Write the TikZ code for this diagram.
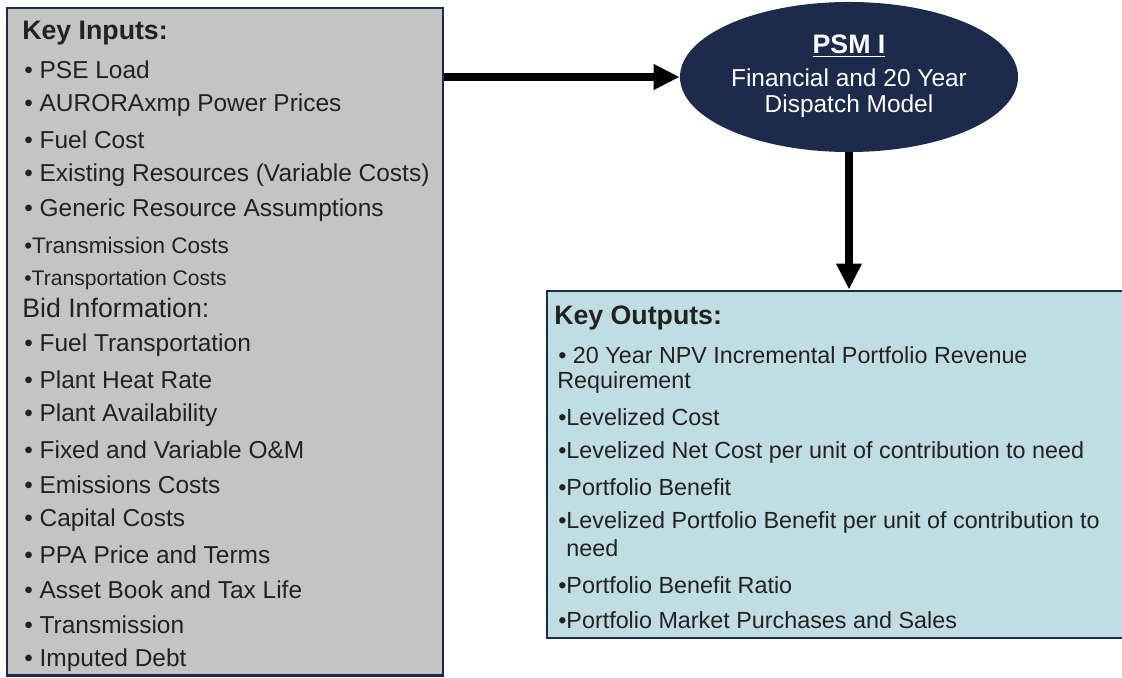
\documentclass[tikz,border=0pt]{standalone}
\usepackage{fontspec}
\setmainfont{Liberation Sans}
\usetikzlibrary{shapes.geometric,arrows.meta}
\definecolor{navy}{HTML}{1C2B4B}
\definecolor{boxgrey}{HTML}{C4C4C4}
\definecolor{boxblue}{HTML}{BFDDE3}
\definecolor{txt}{HTML}{222222}
\begin{document}
\begin{tikzpicture}[x=0.025cm,y=-0.025cm,
  item/.style={anchor=west, inner sep=0, text=txt, font=\fontsize{17.4}{20}\selectfont},
  outitem/.style={anchor=west, inner sep=0, text=txt, font=\fontsize{16.6}{19}\selectfont},
  head/.style={anchor=west, inner sep=0, text=txt, font=\fontsize{19}{22}\selectfont\bfseries},
  flow/.style={line width=5pt, -{Triangle[length=0.65cm,width=0.6cm]}}]
\useasboundingbox (0,0) rectangle (1122,677);
% key inputs
\node[draw=navy, line width=2pt, fill=boxgrey, minimum width=10.9cm, minimum height=16.675cm, inner sep=0] (inbox) at (225,341.5){};
\node[head] (inhead) at (22,33){Key Inputs:};
\foreach \t [count=\i from 0] in {PSE Load, AURORAxmp Power Prices, Fuel Cost,
    Existing Resources (Variable Costs), Generic Resource Assumptions}
  \node[item] (ina\i) at (24,70+35*\i){• \t};
\node[item, font=\fontsize{16}{19}\selectfont] (intrm) at (24,245){•Transmission Costs};
\node[item, font=\fontsize{15}{18}\selectfont] (intrp) at (24,280){•Transportation Costs};
\node[item, font=\fontsize{19}{22}\selectfont] (inbid) at (22,308){Bid Information:};
\foreach \t [count=\i from 0] in {Fuel Transportation, Plant Heat Rate, Plant Availability,
    Fixed and Variable O\&M, Emissions Costs, Capital Costs, PPA Price and Terms,
    Asset Book and Tax Life, Transmission, Imputed Debt}
  \node[item] (inb\i) at (24,345+35*\i){• \t};
% model
\node[ellipse, fill=navy, minimum width=8.45cm, minimum height=3.75cm, inner sep=0] (psm) at (849,77){};
\node[head, anchor=center, text=white] (psm0) at (849,46){\underline{PSM I}};
\node[item, anchor=center, text=white] (psm1) at (849,78){Financial and 20 Year};
\node[item, anchor=center, text=white] (psm2) at (849,106){Dispatch Model};
% key outputs
\node[draw=navy, line width=2pt, fill=boxblue, minimum width=14.475cm, minimum height=8.675cm, inner sep=0] (outbox) at (836.5,464.5){};
\node[head] (outhead) at (554,318){Key Outputs:};
\node[outitem] (out0) at (558,355){• 20 Year NPV Incremental Portfolio Revenue};
\node[outitem] (out1) at (557,382){Requirement};
\node[outitem] (out2) at (558,417){•Levelized Cost};
\node[outitem] (out3) at (558,452){•Levelized Net Cost per unit of contribution to need};
\node[outitem] (out4) at (558,487){•Portfolio Benefit};
\node[outitem] (out5) at (558,522){•Levelized Portfolio Benefit per unit of contribution to};
\node[outitem] (out6) at (558,548){\hphantom{•}need};
\node[outitem] (out7) at (558,585){•Portfolio Benefit Ratio};
\node[outitem] (out8) at (558,620){•Portfolio Market Purchases and Sales};
% arrows
\draw[flow] (inbox.east |- psm.west) -- (psm.west);
\draw[flow] (psm.south) -- (psm.south |- outbox.north);
\end{tikzpicture}
\end{document}
